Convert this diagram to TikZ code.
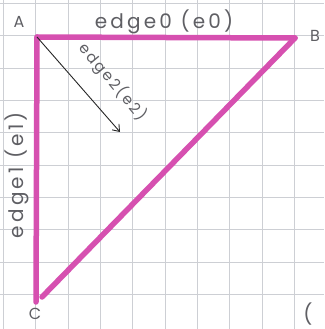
\documentclass[tikz,border=0pt]{standalone}
\usepackage{fontspec}
\setmainfont{Poppins}[LetterSpace=10]
\newfontfamily\widehand{Poppins}[LetterSpace=16]
\newfontfamily\midhand{Poppins}[LetterSpace=14]
\usetikzlibrary{arrows.meta}
\definecolor{pinkedge}{RGB}{214,80,176}
\definecolor{gridgray}{RGB}{205,207,212}
\definecolor{pencil}{RGB}{95,95,100}
\tikzset{
  edgeline/.style={draw=pinkedge,line width=5.5pt,line cap=round,line join=round},
  vlabel/.style={text=pencil,font=\fontsize{16}{19}\selectfont,inner sep=0pt},
  elabel/.style={text=pencil,font=\widehand\fontsize{20}{24}\selectfont,inner sep=0pt},
  slabel/.style={text=pencil,font=\midhand\fontsize{15}{18}\selectfont,inner sep=0pt},
  dirarrow/.style={draw=black!85,line width=0.9pt,-{Straight Barb[length=6pt,width=9pt]}}
}
\begin{document}
\begin{tikzpicture}[x=1pt,y=-1pt]
\useasboundingbox (0,0) rectangle (324,329);
\fill[white] (0,0) rectangle (324,329);
% grid paper
\foreach \g in {0,...,9} {
  \draw[gridgray,line width=0.7pt] ({3.5+32.3*\g},0) -- ({3.5+32.3*\g},329);
  \draw[gridgray,line width=0.7pt] (0,{3.5+32.3*\g}) -- (324,{3.5+32.3*\g});
}
% vertices
\coordinate (A) at (37,37);
\coordinate (B) at (295,38);
\coordinate (C) at (36,302);
\coordinate (Cend) at (42,297);
\coordinate (e2end) at (120,132);
% edges
\draw[edgeline] (A) -- (B);
\draw[edgeline] (A) -- (C);
\draw[edgeline] (B) -- (Cend);
\draw[dirarrow] (A) -- (e2end);
% labels
\node[vlabel] (lA) at (19,22) {A};
\node[vlabel] (lB) at (315,36) {B};
\node[vlabel] (lC) at (35,314) {C};
\node[elabel] (l0) at (164,22) {edge0 (e0)};
\node[elabel,rotate=90] (l1) at (17,175) {edge1 (e1)};
\node[slabel,rotate=-50] (l2) at (113,82) {edge2(e2)};
\node[elabel] (lp) at (308,314) {(};
\end{tikzpicture}
\end{document}
